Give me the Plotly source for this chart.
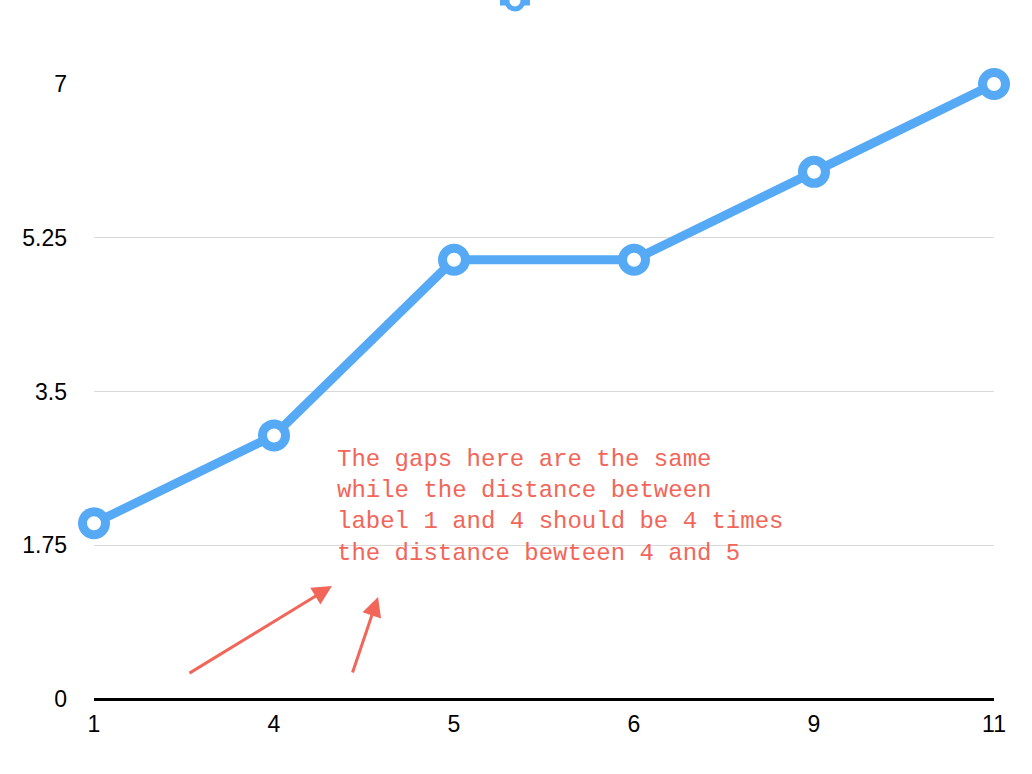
import plotly.graph_objects as go

categories = ["1", "4", "5", "6", "9", "11"]
values = [2, 3, 5, 5, 6, 7]
y_ticks = [0, 1.75, 3.5, 5.25, 7]
y_tick_labels = ["0", "1.75", "3.5", "5.25", "7"]
note_lines = [
    "The gaps here are the same",
    "while the distance between",
    "label 1 and 4 should be 4 times",
    "the distance bewteen 4 and 5",
]

BLUE = "#56aaf5"
RED = "#f2665a"

fig = go.Figure()
fig.add_trace(go.Scatter(
    x=categories, y=values, mode="lines+markers", name="",
    line=dict(color=BLUE, width=9),
    marker=dict(size=23, color="white", line=dict(color=BLUE, width=9)),
    cliponaxis=False, showlegend=True,
))

fig.update_layout(
    width=1032, height=774,
    margin=dict(l=94, r=38, t=84, b=75, autoexpand=False),
    paper_bgcolor="white", plot_bgcolor="white",
    font=dict(family="Liberation Sans, Arial, sans-serif", size=23, color="black"),
    showlegend=True,
    legend=dict(orientation="h", x=0.4705, xanchor="center", y=1.135, yanchor="middle",
                font=dict(size=1), itemwidth=30, bgcolor="rgba(0,0,0,0)"),
    xaxis=dict(type="category", range=[0, 5], showgrid=False, showline=False,
               zeroline=False, ticks="", tickfont=dict(size=23), ticklabelstandoff=9),
    yaxis=dict(range=[0, 7], tickvals=y_ticks, ticktext=y_tick_labels,
               showgrid=True, gridcolor="#d9d9d9", gridwidth=1,
               zeroline=True, zerolinecolor="black", zerolinewidth=3,
               showline=False, ticks="", ticklabelstandoff=26, tickfont=dict(size=23)),
)

mono = "Liberation Mono, DejaVu Sans Mono, monospace"
fig.add_annotation(
    xref="paper", yref="paper", x=0.268, y=0.415, xanchor="left", yanchor="top",
    text="<br>".join(note_lines), align="left", showarrow=False,
    font=dict(family=mono, size=24, color=RED),
)
fig.add_annotation(
    xref="paper", yref="paper", x=0.2644, y=0.1837, text="", showarrow=True,
    ax=-144, ay=88, arrowhead=2, arrowsize=1.3, arrowwidth=3, arrowcolor=RED,
)
fig.add_annotation(
    xref="paper", yref="paper", x=0.3156, y=0.1659, text="", showarrow=True,
    ax=-26, ay=77, arrowhead=2, arrowsize=1.3, arrowwidth=3, arrowcolor=RED,
)

fig.write_html(
    "out.html",
    config={"displayModeBar": False},
    post_script="document.body.style.margin='0';document.body.style.overflow='hidden';",
)
